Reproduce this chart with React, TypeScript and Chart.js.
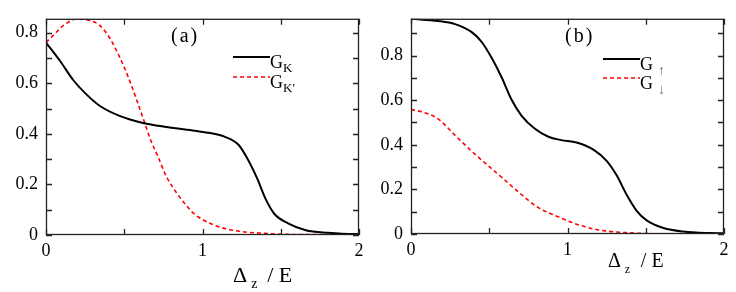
import React, { useEffect, useRef } from "react";
import { Chart, registerables } from "chart.js";

Chart.register(...registerables);

// ---------- data ----------
const xA_K = [0, 0.09, 0.175, 0.25, 0.345, 0.47, 0.62, 0.77, 0.95, 1.05, 1.14, 1.23, 1.29, 1.35, 1.4, 1.46, 1.55, 1.66, 1.8, 1.97, 2.0];
const yA_K = [0.761, 0.688, 0.612, 0.561, 0.51, 0.471, 0.443, 0.427, 0.412, 0.403, 0.389, 0.357, 0.299, 0.223, 0.147, 0.083, 0.045, 0.019, 0.009, 0.004, 0.004];

const xA_Kp = [0, 0.047, 0.11, 0.196, 0.281, 0.345, 0.409, 0.473, 0.526, 0.579, 0.622, 0.665, 0.718, 0.771, 0.835, 0.899, 0.95, 1.08, 1.21, 1.38, 1.59, 2.0];
const yA_Kp = [0.761, 0.79, 0.828, 0.854, 0.848, 0.828, 0.777, 0.7, 0.624, 0.535, 0.459, 0.382, 0.306, 0.229, 0.166, 0.115, 0.082, 0.038, 0.017, 0.007, 0.002, 0.001];

const xB_up = [0, 0.175, 0.281, 0.388, 0.452, 0.516, 0.579, 0.643, 0.707, 0.792, 0.878, 0.96, 1.058, 1.165, 1.25, 1.314, 1.378, 1.442, 1.506, 1.613, 1.74, 1.91, 2.0];
const yB_up = [0.965, 0.955, 0.941, 0.905, 0.861, 0.789, 0.703, 0.602, 0.53, 0.472, 0.436, 0.421, 0.41, 0.378, 0.328, 0.263, 0.176, 0.104, 0.061, 0.027, 0.011, 0.004, 0.003];

const xB_dn = [0, 0.089, 0.175, 0.281, 0.388, 0.494, 0.601, 0.707, 0.814, 0.92, 1.08, 1.208, 1.378, 1.59, 2.0];
const yB_dn = [0.558, 0.544, 0.515, 0.443, 0.371, 0.306, 0.241, 0.176, 0.118, 0.083, 0.039, 0.017, 0.006, 0.001, 0.001];

const xTicks = [0, 1, 2];
const xMinorTicks = [0, 0.5, 1, 1.5, 2];
const yTicks = [0, 0.2, 0.4, 0.6, 0.8];
const yMinorTicks = [0, 0.1, 0.2, 0.3, 0.4, 0.5, 0.6, 0.7, 0.8, 0.9];

const legendA = ["K", "K'"];
const legendB = ["\u2191", "\u2193"];

const SERIF = "'Liberation Serif', serif";

const toPts = (xs: number[], ys: number[]) => xs.map((x, i) => ({ x, y: ys[i] }));

type Panel = {
  label: string;
  yMax: number;
  yAxisW: number;
  xAxisH: number;
  padTop: number;
  padRight: number;
  series: { xs: number[]; ys: number[]; color: string; dash: number[]; width: number }[];
  legendSub: string[];
  legendX: number;
  legendY: number[];
  labelPos: [number, number];
  titlePos: [number, number];
  titleSize: number;
  arrowSub: boolean;
};

function makePlugin(p: Panel) {
  return {
    id: "decor" + p.label,
    afterDraw(chart: any) {
      const { ctx, chartArea: a, scales } = chart;
      const x = scales.x, y = scales.y;
      ctx.save();
      ctx.strokeStyle = "#222";
      ctx.lineWidth = 1.3;
      ctx.strokeRect(a.left + 0.5, a.top + 0.5, a.right - a.left - 1, a.bottom - a.top - 1);
      const tl = 6;
      ctx.beginPath();
      for (const v of yMinorTicks) {
        if (v > p.yMax) continue;
        const py = Math.round(y.getPixelForValue(v)) + 0.5;
        ctx.moveTo(a.left, py); ctx.lineTo(a.left + tl, py);
        ctx.moveTo(a.right, py); ctx.lineTo(a.right - tl, py);
      }
      for (const v of xMinorTicks) {
        const px = Math.round(x.getPixelForValue(v)) + 0.5;
        ctx.moveTo(px, a.bottom); ctx.lineTo(px, a.bottom - tl);
        ctx.moveTo(px, a.top); ctx.lineTo(px, a.top + tl);
      }
      ctx.stroke();

      // panel label
      ctx.fillStyle = "#000";
      ctx.font = `20px ${SERIF}`;
      (ctx as any).letterSpacing = "2px";
      ctx.textBaseline = "alphabetic";
      ctx.fillText(`(${p.label})`, p.labelPos[0], p.labelPos[1]);
      (ctx as any).letterSpacing = "0px";

      // legend
      p.series.forEach((s, i) => {
        const ly = p.legendY[i];
        ctx.beginPath();
        ctx.strokeStyle = s.color;
        ctx.lineWidth = s.width;
        ctx.setLineDash(s.dash);
        ctx.moveTo(p.legendX, ly);
        ctx.lineTo(p.legendX + 37, ly);
        ctx.stroke();
        ctx.setLineDash([]);
        ctx.fillStyle = "#000";
        ctx.font = `18px ${SERIF}`;
        ctx.fillText("G", p.legendX + 37, ly + 11);
        if (p.arrowSub) {
          ctx.fillStyle = "#777";
          ctx.font = `14px ${SERIF}`;
          ctx.fillText(p.legendSub[i], p.legendX + 55, ly + 16);
        } else {
          ctx.font = `13px ${SERIF}`;
          ctx.fillText(p.legendSub[i], p.legendX + 50, ly + 15);
        }
      });

      // axis title
      const [tx, ty] = p.titlePos;
      const fs = p.titleSize;
      ctx.fillStyle = "#000";
      ctx.font = `${fs}px ${SERIF}`;
      ctx.fillText("\u0394", tx, ty);
      const dw = ctx.measureText("\u0394").width;
      ctx.font = `${Math.round(fs * 0.62)}px ${SERIF}`;
      ctx.fillText("z", tx + dw + 4, ty + 6);
      ctx.font = `${fs}px ${SERIF}`;
      ctx.fillText("/ E", tx + dw + 20, ty);
      ctx.restore();
    },
  };
}

function PanelChart({ p, left, width }: { p: Panel; left: number; width: number }) {
  const ref = useRef<HTMLCanvasElement>(null);
  useEffect(() => {
    const c = new Chart(ref.current!, {
      type: "line",
      data: {
        datasets: p.series.map((s) => ({
          data: toPts(s.xs, s.ys),
          borderColor: s.color,
          borderWidth: s.width,
          borderDash: s.dash,
          pointRadius: 0,
          fill: false,
          cubicInterpolationMode: "monotone" as const,
        })),
      },
      options: {
        responsive: false,
        animation: false,
        events: [],
        layout: { padding: { top: p.padTop, right: p.padRight, left: 0, bottom: 0 } },
        plugins: { legend: { display: false }, tooltip: { enabled: false } },
        scales: {
          x: {
            type: "linear",
            min: 0,
            max: 2,
            grid: { display: false, drawTicks: false },
            border: { display: false },
            afterFit: (s: any) => { s.height = p.xAxisH; },
            afterBuildTicks: (s: any) => { s.ticks = xTicks.map((v) => ({ value: v })); },
            ticks: {
              padding: 5,
              color: "#000",
              font: { family: SERIF, size: 18 },
              maxRotation: 0,
              callback: (v: any) => String(v),
            },
          },
          y: {
            type: "linear",
            min: 0,
            max: p.yMax,
            grid: { display: false, drawTicks: false },
            border: { display: false },
            afterFit: (s: any) => { s.width = p.yAxisW; },
            afterBuildTicks: (s: any) => { s.ticks = yTicks.map((v) => ({ value: v })); },
            ticks: {
              padding: 8,
              color: "#000",
              font: { family: SERIF, size: 18 },
              callback: (v: any) => (v === 0 ? "0" : Number(v).toFixed(1)),
            },
          },
        },
      },
      plugins: [makePlugin(p)],
    });
    return () => c.destroy();
  }, []);
  return (
    <canvas
      ref={ref}
      width={width}
      height={292}
      style={{ position: "absolute", left, top: 0, width, height: 292 }}
    />
  );
}

const panelA: Panel = {
  label: "a",
  yMax: 0.855,
  yAxisW: 46,
  xAxisH: 57,
  padTop: 12,
  padRight: 11,
  series: [
    { xs: xA_K, ys: yA_K, color: "#000000", dash: [], width: 2 },
    { xs: xA_Kp, ys: yA_Kp, color: "#ff0000", dash: [4, 3], width: 1.6 },
  ],
  legendSub: legendA,
  legendX: 233,
  legendY: [57, 77],
  labelPos: [171, 42],
  titlePos: [233, 282],
  titleSize: 22,
  arrowSub: false,
};

const panelB: Panel = {
  label: "b",
  yMax: 0.965,
  yAxisW: 41,
  xAxisH: 58,
  padTop: 11,
  padRight: 12,
  series: [
    { xs: xB_up, ys: yB_up, color: "#000000", dash: [], width: 2 },
    { xs: xB_dn, ys: yB_dn, color: "#ff0000", dash: [4, 3], width: 1.6 },
  ],
  legendSub: legendB,
  legendX: 233,
  legendY: [59, 78],
  labelPos: [195, 42],
  titlePos: [238, 267],
  titleSize: 20,
  arrowSub: true,
};

export default function App() {
  return (
    <div style={{ position: "absolute", left: 0, top: 0, width: 736, height: 292, background: "#fff" }}>
      <PanelChart p={panelA} left={0} width={370} />
      <PanelChart p={panelB} left={370} width={366} />
    </div>
  );
}
